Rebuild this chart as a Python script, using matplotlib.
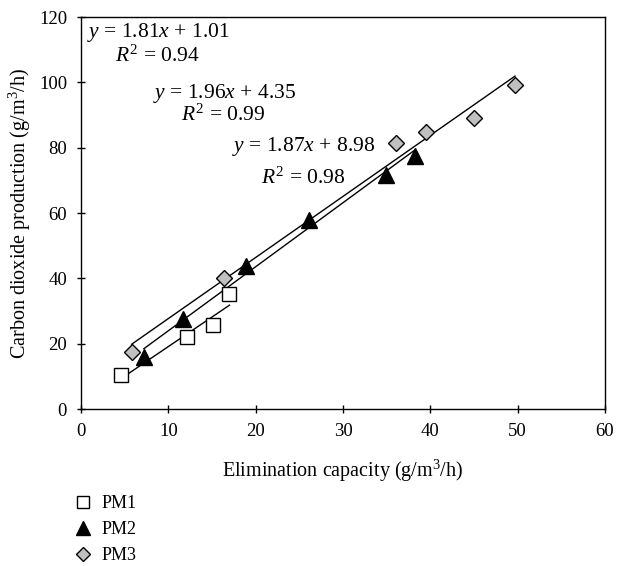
import matplotlib
matplotlib.use("Agg")
import matplotlib.pyplot as plt
import numpy as np
from matplotlib.lines import Line2D

plt.rcParams['font.family'] = ['Liberation Serif', 'DejaVu Serif']
plt.rcParams['mathtext.fontset'] = 'custom'
plt.rcParams['mathtext.rm'] = 'Liberation Serif'
plt.rcParams['mathtext.it'] = 'Liberation Serif:italic'

# Data
pm1_x = [4.6, 12.1, 15.1, 17.0]
pm1_y = [10.4, 22.1, 25.8, 35.2]
pm2_x = [7.2, 11.7, 18.9, 26.1, 34.9, 38.2]
pm2_y = [15.8, 27.4, 43.7, 57.9, 71.5, 77.5]
pm3_x = [5.8, 16.4, 36.1, 39.5, 45.0, 49.7]
pm3_y = [17.4, 40.0, 81.5, 84.8, 89.2, 99.2]

fits = {  # slope, intercept
    "PM1": (1.81, 1.01),
    "PM2": (1.96, 4.35),
    "PM3": (1.87, 8.98),
}
eq_labels = [
    (r"$y$ = 1.81$x$ + 1.01", r"$R^{\mathrm{2}}$ = 0.94"),
    (r"$y$ = 1.96$x$ + 4.35", r"$R^{\mathrm{2}}$ = 0.99"),
    (r"$y$ = 1.87$x$ + 8.98", r"$R^{\mathrm{2}}$ = 0.98"),
]
series_names = ["PM1", "PM2", "PM3"]

W, H = 618, 566
fig = plt.figure(figsize=(W / 100, H / 100), dpi=100)
ax = fig.add_axes([81 / W, 1 - 409 / H, (605 - 81) / W, (409 - 17) / H])

# fit lines
for name, xs in zip(series_names, (pm1_x, pm2_x, pm3_x)):
    m, b = fits[name]
    xx = np.array([min(xs), max(xs)])
    ax.plot(xx, m * xx + b, color='black', lw=1.0, zorder=2)

ax.plot(pm1_x, pm1_y, 's', ms=10, mfc='white', mec='black', mew=1.0, zorder=3)
ax.plot(pm2_x, pm2_y, '^', ms=11, mfc='black', mec='black', mew=1.0, zorder=3)
ax.plot(pm3_x, pm3_y, 'D', ms=8.5, mfc='#c0c0c0', mec='black', mew=1.0, zorder=3)

ax.set_xlim(0, 60)
ax.set_ylim(0, 120)
ax.set_xticks(np.arange(0, 61, 10))
ax.set_yticks(np.arange(0, 121, 20))
ax.tick_params(direction='inout', length=6, labelsize=13.5, width=1, pad=7)
for s in ax.spines.values():
    s.set_linewidth(1.0)

ax.set_xlabel("Elimination capacity (g/m$^{\\mathrm{3}}$/h)", fontsize=14.5, labelpad=13)
ax.set_ylabel("Carbon dioxide production (g/m$^{\\mathrm{3}}$/h)", fontsize=14.5, labelpad=4)

# equation text
fs = 15.5
ax.text(0.7, 115.2, eq_labels[0][0], fontsize=fs, va='center', ha='left')
ax.text(3.9, 107.9, eq_labels[0][1], fontsize=fs, va='center', ha='left')
ax.text(8.2, 96.5, eq_labels[1][0], fontsize=fs, va='center', ha='left')
ax.text(11.5, 89.8, eq_labels[1][1], fontsize=fs, va='center', ha='left')
ax.text(17.3, 80.3, eq_labels[2][0], fontsize=fs, va='center', ha='left')
ax.text(20.6, 70.8, eq_labels[2][1], fontsize=fs, va='center', ha='left')

handles = [
    Line2D([], [], ls='none', marker='s', ms=8.5, mfc='white', mec='black'),
    Line2D([], [], ls='none', marker='^', ms=9.5, mfc='black', mec='black'),
    Line2D([], [], ls='none', marker='D', ms=7.5, mfc='#c0c0c0', mec='black'),
]
fig.legend(handles, series_names, loc='upper left',
           bbox_to_anchor=(74 / W, 1 - 495 / H), frameon=False,
           fontsize=13, handlelength=1.0, handletextpad=0.5,
           labelspacing=0.5, borderpad=0, borderaxespad=0)

fig.savefig("out.png", dpi=100)
